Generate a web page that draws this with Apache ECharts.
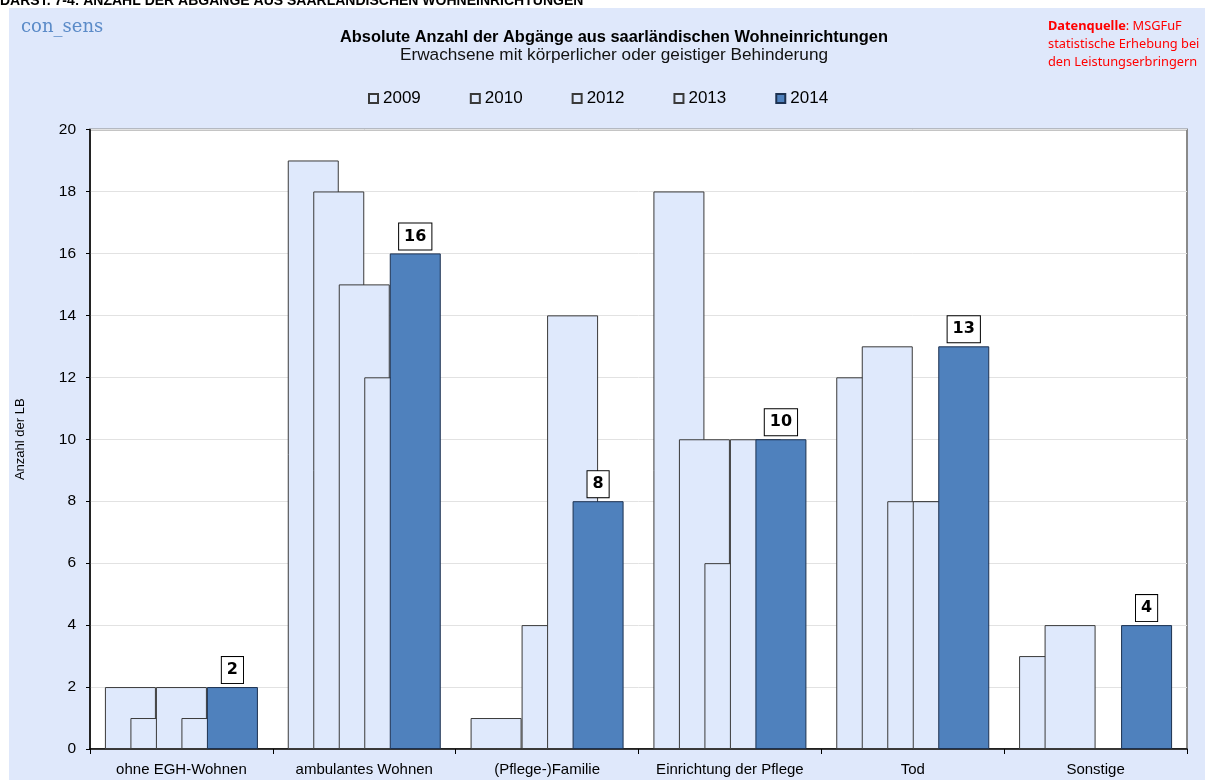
<!DOCTYPE html>
<html>
<head>
<meta charset="utf-8">
<script src="https://cdn.jsdelivr.net/npm/echarts@6/dist/echarts.min.js"></script>
<style>
  html, body { margin: 0; padding: 0; background: #ffffff; }
  #chart { width: 1205px; height: 780px; }
</style>
</head>
<body>
<div id="chart"></div>
<script>
// Abgänge aus saarländischen Wohneinrichtungen nach Zielbereich und Jahr
const categories = ['ohne EGH-Wohnen', 'ambulantes Wohnen', '(Pflege-)Familie', 'Einrichtung der Pflege', 'Tod', 'Sonstige'];
const years = ['2009', '2010', '2012', '2013', '2014'];
const v2009 = [2, 19, 1, 18, 12, 3];
const v2010 = [1, 18, 0, 10, 13, 4];
const v2012 = [2, 15, 4, 6, 8, 0];
const v2013 = [1, 12, 14, 10, 8, 0];
const v2014 = [2, 16, 8, 10, 13, 4];
const yTicks = { min: 0, max: 20, step: 2 };

const seriesValues = [v2009, v2010, v2012, v2013, v2014];
const LIGHT = '#dfe9fc';
const DARK = '#4f81bd';
const SANS = '"Liberation Sans", Arial, sans-serif';

const chart = echarts.init(document.getElementById('chart'), null, { renderer: 'canvas' });

const series = years.map((y, i) => {
  const last = i === years.length - 1;
  return {
    name: y,
    type: 'bar',
    data: seriesValues[i],
    barWidth: 51,
    barGap: '-50%',
    itemStyle: {
      color: last ? DARK : LIGHT,
      borderColor: last ? '#1c3150' : '#3a3a3a',
      borderWidth: 1
    },
    emphasis: { disabled: true },
    label: last ? {
      show: true,
      position: 'top',
      distance: 4,
      formatter: '{c}',
      fontFamily: '"DejaVu Sans", Verdana, sans-serif',
      fontSize: 16,
      fontWeight: 'bold',
      color: '#000',
      backgroundColor: '#ffffff',
      borderColor: '#000000',
      borderWidth: 1,
      padding: [5, 5, 5, 5]
    } : { show: false }
  };
});

chart.setOption({
  backgroundColor: '#ffffff',
  animation: false,
  title: {
    text: 'Absolute Anzahl der Abgänge aus saarländischen Wohneinrichtungen',
    subtext: 'Erwachsene mit körperlicher oder geistiger Behinderung',
    left: 609,
    top: 24,
    textAlign: 'center',
    itemGap: 2,
    textStyle: { fontFamily: SANS, fontSize: 16.4, fontWeight: 'bold', color: '#000' },
    subtextStyle: { fontFamily: SANS, fontSize: 17.2, color: '#111' }
  },
  legend: {
    data: years,
    left: 363,
    top: 85,
    icon: 'rect',
    itemWidth: 9,
    itemHeight: 9,
    itemGap: 49,
    selectedMode: false,
    textStyle: { fontFamily: SANS, fontSize: 17, color: '#000' }
  },
  grid: {
    left: 90,
    right: 18,
    top: 129.5,
    bottom: 31,
    show: true,
    backgroundColor: '#ffffff',
    borderColor: '#8a8a8a',
    borderWidth: 2
  },
  xAxis: {
    type: 'category',
    data: categories,
    axisLine: { show: true, lineStyle: { color: '#000', width: 1.5 } },
    axisTick: { show: true, length: 5, lineStyle: { color: '#000' } },
    axisLabel: { interval: 0, fontFamily: SANS, fontSize: 15, color: '#000', margin: 13 }
  },
  yAxis: {
    type: 'value',
    min: yTicks.min,
    max: yTicks.max,
    interval: yTicks.step,
    name: 'Anzahl der LB',
    nameLocation: 'middle',
    nameRotate: 90,
    nameGap: 63,
    nameTextStyle: { fontFamily: SANS, fontSize: 13, color: '#000' },
    axisLine: { show: true, lineStyle: { color: '#000', width: 1.5 } },
    axisTick: { show: true, length: 4, lineStyle: { color: '#000' } },
    axisLabel: { fontFamily: SANS, fontSize: 15.5, color: '#000', margin: 14 },
    splitLine: { show: true, lineStyle: { color: '#e2e2e2', width: 1 } }
  },
  graphic: [
    {
      type: 'rect',
      z: -10,
      silent: true,
      shape: { x: 9, y: 8, width: 1196, height: 772 },
      style: { fill: '#dfe8fb' }
    },
    {
      type: 'text',
      z: -20,
      silent: true,
      x: 0,
      y: -6,
      style: {
        text: 'DARST. 7-4: ANZAHL DER ABGÄNGE AUS SAARLÄNDISCHEN WOHNEINRICHTUNGEN',
        font: 'bold 14px "Liberation Sans", Arial, sans-serif',
        fill: '#000',
        textVerticalAlign: 'top'
      }
    },
    {
      type: 'text',
      silent: true,
      x: 21,
      y: 27,
      style: {
        text: 'con_sens',
        font: '18px "DejaVu Serif", serif',
        fill: '#5b8bc8',
        textVerticalAlign: 'middle'
      }
    },
    {
      type: 'text',
      silent: true,
      x: 1048,
      y: 17,
      style: {
        text: '{b|Datenquelle}: MSGFuF\nstatistische Erhebung bei\nden Leistungserbringern',
        font: '12.8px "Noto Sans", sans-serif',
        fill: '#ff0000',
        lineHeight: 18,
        rich: {
          b: { fontWeight: 'bold', fontSize: 12.8, fontFamily: '"Noto Sans", sans-serif', fill: '#ff0000', lineHeight: 18 }
        }
      }
    }
  ],
  series: series
});
</script>
</body>
</html>
